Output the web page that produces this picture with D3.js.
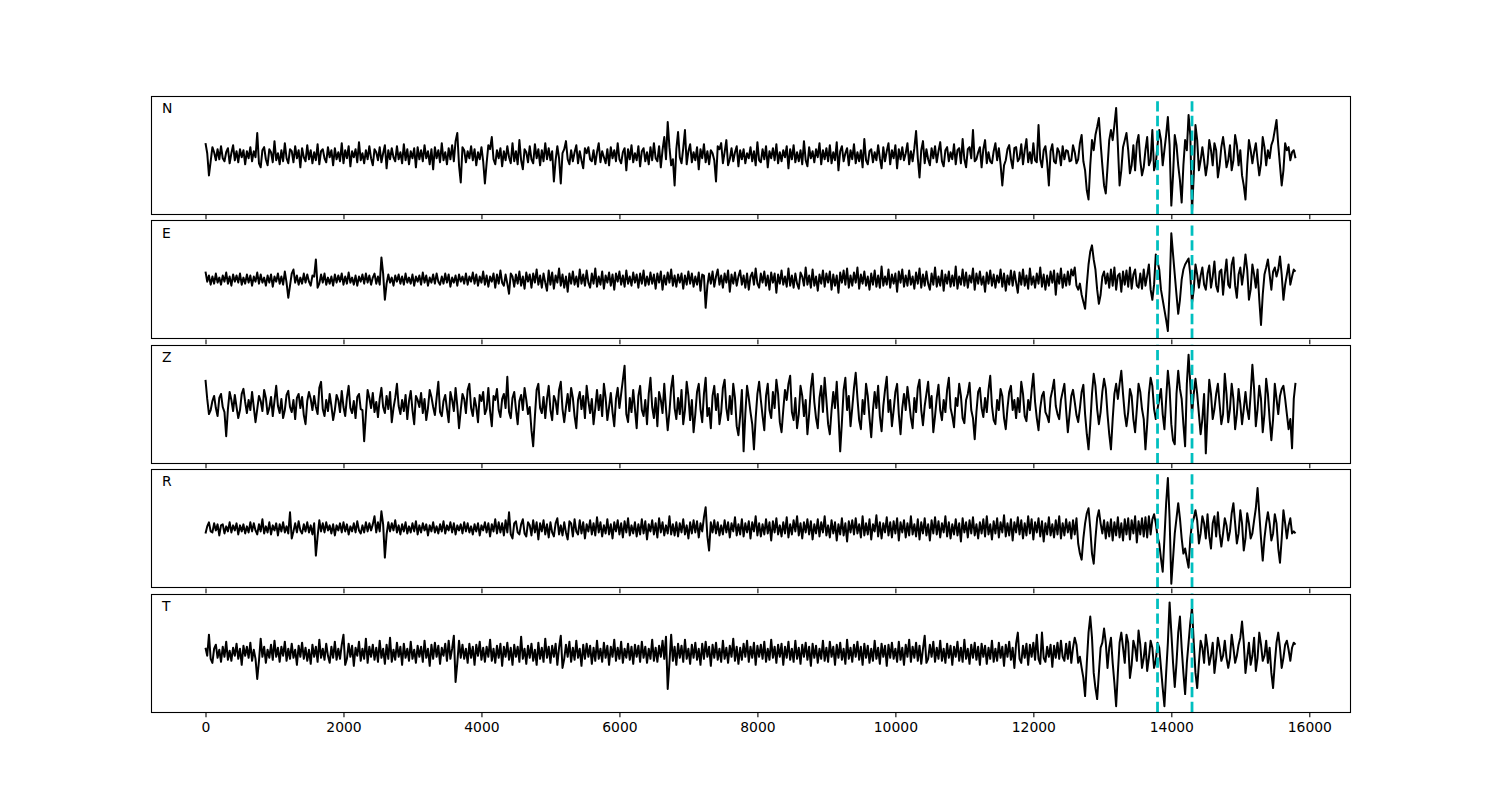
<!DOCTYPE html>
<html><head><meta charset="utf-8">
<script src="https://cdn.jsdelivr.net/npm/d3@7"></script>
<style>
body{margin:0;background:#fff}
svg{display:block}
text{font-family:"DejaVu Sans",sans-serif}
</style>
</head><body>
<svg id="chart" width="1500" height="800"></svg>
<script>
// ---------------- data (amplitudes, 25-unit sampling) ----------------
const channels = ["N", "E", "Z", "R", "T"];
const duration = 15800;           // time of the last sample
const markerTimes = [13800, 14300];
const xTickValues = [0, 2000, 4000, 6000, 8000, 10000, 12000, 14000, 16000];

const traceN = [
12,2,-20,-6,8,3,-5,6,-4,9,-3,-6,3,7,-8,2,10,-5,4,-7,6,-2,5,-9,4,
-3,8,-6,4,-2,22,-8,-12,5,8,-4,-10,6,3,-7,14,-5,2,-9,5,-6,12,-3,-8,6,
4,-7,9,-3,5,-12,7,-2,-6,10,-4,5,-8,3,-5,11,-9,4,6,-3,-7,8,-2,5,-10,
7,-4,3,-6,12,-8,5,-3,9,-11,4,-2,6,-7,13,-5,2,-8,5,-4,9,-3,-10,6,3,
-5,8,-7,2,10,-13,5,-4,7,-2,-6,9,-4,3,-8,11,-5,6,-9,4,-3,7,-12,8,-4,
5,-6,10,-3,4,-9,6,-14,8,-3,5,-7,12,-5,3,-9,7,-4,10,-6,14,22,-10,-27,8,
5,-7,4,-3,9,-5,6,-10,3,-4,8,-6,-28,-8,10,6,18,-4,-9,5,-3,7,-11,4,-5,
9,-2,-8,12,-6,4,-9,15,-5,-14,6,3,-7,9,-4,-8,11,-3,6,-10,5,-6,12,-4,7,
-5,4,-26,-5,9,-3,-28,2,6,14,-4,-9,5,-6,3,10,-8,4,-5,-13,7,2,8,-4,-6,
5,-9,3,12,-7,4,-2,-8,6,-10,8,-3,5,-6,12,-4,-8,3,7,-15,6,-4,10,-7,2,
-5,9,-11,4,7,-6,3,-9,8,-5,12,-3,-6,9,-12,5,18,-4,33,8,-10,-4,-30,6,23,
-2,-8,7,25,-9,4,11,-7,3,-5,8,-14,6,-3,11,-7,4,-9,5,2,-5,-26,9,6,12,
-8,3,15,-10,-4,7,-6,3,9,-11,5,-4,6,-8,2,-3,8,-6,4,-10,13,-5,-7,6,-4,
9,-12,4,-3,7,-5,11,-8,3,-6,5,-2,9,-13,6,-4,10,-7,3,-6,5,-9,14,-5,-11,
8,-3,4,-7,6,-2,12,-9,5,-4,7,-6,10,-8,3,-5,13,-15,4,9,-6,2,7,-10,5,
-4,11,-8,3,-6,5,-12,16,-5,-9,4,6,-7,3,-5,10,-3,-13,8,-6,4,12,-9,5,-3,
10,-13,6,-4,8,-5,2,12,-9,4,-6,7,24,-3,-22,5,14,-8,6,-4,-10,7,-3,9,-7,
4,13,-6,-11,5,8,-6,3,-4,11,-9,5,7,-8,16,-4,-12,6,8,-3,25,-6,-4,3,8,
-12,6,15,-8,3,-6,-8,4,12,-5,7,-9,-30,-10,-5,6,10,-4,-13,7,8,-6,-3,11,-9,
5,16,-7,3,-8,12,-5,-7,30,-4,-12,5,9,-7,-30,4,11,-6,-8,7,3,-10,9,-4,5,
4,-6,-5,10,3,-8,-4,12,20,-6,-15,-35,-44,-10,15,5,20,28,37,12,-10,-30,-38,-12,15,
25,15,30,47,10,-30,-15,8,15,22,5,-18,-10,10,-15,12,20,-5,-20,-12,5,18,-10,-5,25,
-15,-8,10,25,15,-10,5,20,38,10,-50,-20,20,10,-10,-25,-47,-10,15,5,40,20,-56,-20,30,
15,-15,-5,8,-5,-20,-8,15,5,-10,12,5,-22,-10,8,18,5,-12,-5,10,-15,-5,20,10,-10,
5,-20,-30,-44,-10,15,5,-8,3,12,-5,-20,-8,18,8,-10,5,-3,10,15,25,35,10,-10,-30,
-15,12,5,8,-5,3,5,-3
];

const traceE = [
8,-2,4,-5,3,-4,6,-3,2,-5,4,-2,7,-4,3,-6,5,-2,4,-3,6,-5,2,-4,5,
-3,4,-6,3,-2,7,-4,5,-3,2,-6,4,-3,5,-7,3,-2,6,-4,3,-5,8,-3,-18,-6,
6,10,-3,4,-5,2,-4,6,-3,5,-2,-6,4,3,20,-8,-4,5,-3,6,-5,2,-4,3,-6,
5,-3,4,-2,6,-5,3,-4,7,-3,2,-5,4,-6,3,-2,5,-4,6,-3,4,-5,2,6,-4,
3,-5,22,6,-20,-4,5,-3,2,-6,4,-2,5,-4,3,-5,6,-3,2,-4,5,-6,3,-2,4,
-5,7,-3,4,-6,2,-3,5,-4,6,-2,-5,3,-4,6,-3,5,-7,2,-3,4,-6,5,-2,3,
-4,6,-5,3,-2,7,-4,5,-6,3,-3,8,-5,4,-7,3,-2,6,-8,5,-4,9,-3,-6,5,
-4,-14,6,3,-7,5,-4,8,-6,3,-9,7,-2,5,-8,6,-3,10,-5,4,-8,6,-3,-11,9,
-5,7,-9,4,-3,11,-6,5,-8,3,-12,6,-4,8,-5,3,-7,10,-4,5,-6,9,-3,-8,6,
-4,11,-7,3,-5,8,-9,4,-3,7,-6,5,-10,6,-2,8,-5,4,-7,9,-4,3,-6,7,-3,
5,-8,6,-4,9,-6,3,-5,7,-4,5,-9,6,-3,8,-10,4,-5,7,-3,10,-6,4,-7,5,
-3,6,-9,4,-5,8,-4,6,-7,3,-5,7,-11,5,4,-28,-6,6,-4,8,-7,3,10,-5,4,
-8,6,-3,9,-12,5,-4,7,-6,3,9,-5,4,-8,6,-10,3,7,-5,11,-4,-8,6,-3,8,
-6,4,-10,7,-3,6,-13,5,-4,9,-5,3,-7,11,-6,4,-8,6,-4,-9,7,3,-6,12,-5,
4,-8,10,-6,3,-11,5,-4,9,-7,6,-3,8,-10,5,-6,4,-13,7,-3,9,-5,11,-8,4,
-6,7,-3,12,-9,5,-4,8,-6,3,-10,6,-5,9,-7,4,-8,13,-6,3,-5,10,-8,5,-4,
6,-12,8,-3,10,-7,4,-6,9,-5,3,-9,7,-4,11,-8,5,-6,8,-4,-10,6,-5,12,-7,
3,-6,9,-11,5,-4,8,-7,4,-6,13,-9,3,-5,10,-6,7,-8,4,-3,11,-10,6,-4,8,
-5,3,-12,7,-4,9,-6,5,-8,4,-3,10,-7,6,-11,4,-5,9,-6,8,-3,-13,7,-5,10,
-6,4,-9,11,-5,3,-8,6,-4,12,-7,5,-10,4,-6,8,-3,9,-15,6,-4,11,-8,5,-6,
8,-5,10,4,12,-6,-10,-4,-15,-22,-29,-5,15,28,34,20,10,-10,-24,-15,3,8,-4,6,-8,
10,-6,12,-10,4,6,-12,8,-5,9,-7,12,-9,5,10,-6,-8,6,-9,10,-6,4,15,-10,-20,
-5,25,18,10,-10,-20,-30,-40,-51,-10,46,25,5,-15,-34,-20,0,10,15,18,21,5,-23,-10,15,
5,-8,4,12,-5,-10,6,14,-8,3,18,-6,-12,8,10,-15,5,20,-5,-8,15,22,-6,-18,5,
12,-5,8,25,10,-20,-10,15,5,-8,10,-20,-45,-15,5,12,20,5,-10,8,12,3,10,23,5,
-20,-5,5,15,-5,3,10,8
];

const traceZ = [
24,5,-10,-6,3,8,-4,-12,6,10,-3,-8,-32,-5,12,4,-7,9,-3,-14,-6,10,15,2,-9,
4,-6,12,-3,-18,-5,8,3,-7,14,6,-10,-4,7,-12,3,18,-2,-9,5,-14,-6,9,13,-3,
-8,4,-15,6,10,-4,7,-11,-20,3,12,5,-6,8,-3,-10,16,22,-5,-12,4,-7,10,-2,-16,
-6,9,4,-8,13,-3,-12,6,18,-4,-9,3,-14,7,10,-5,-6,-37,-10,14,6,-4,11,-8,2,
-13,5,16,-3,-9,8,-5,12,-18,-4,6,20,-2,-10,4,-7,9,-15,3,13,-6,-20,8,4,-3,
11,-9,5,-16,-4,14,7,-3,-11,6,22,-8,-12,3,9,-5,-18,12,4,-7,16,-2,-24,-6,10,
5,-9,14,20,-4,-12,6,-3,-18,9,3,12,-10,-5,16,-7,-22,8,4,15,-6,-13,5,10,-4,
27,-8,-14,6,12,-5,-20,3,9,-6,16,4,-10,-3,-26,-42,-12,14,20,-4,-9,7,-14,5,18,
-6,-16,8,3,-10,14,22,-5,-18,-3,10,-7,16,6,-12,-24,4,12,-5,8,-14,18,3,-9,5,
-20,-4,14,-6,9,-12,20,6,-16,-3,11,-8,-22,5,16,-4,10,24,38,-10,-18,6,-8,14,-5,
-24,8,18,-6,-12,4,-20,10,26,-3,-14,6,-22,12,4,-9,20,-5,-26,-8,16,28,-4,-15,6,
-10,14,-20,-6,22,8,-16,4,-28,-10,12,20,-5,-18,10,26,-12,-4,-24,8,18,-6,10,-20,-8,
16,24,-4,-16,8,-10,20,6,-22,-31,-12,14,-47,-10,18,6,-8,-20,-45,-14,10,22,4,-12,-26,
8,20,-6,-14,12,-4,24,10,-18,-28,-6,14,4,20,28,-8,-16,6,-24,-10,18,8,-12,4,-30,
-10,16,30,2,-14,-24,6,18,-8,26,4,-20,-30,-6,12,-4,22,-10,-47,-18,14,26,-6,8,-22,
-4,16,31,6,-16,-25,4,-10,20,8,-14,-33,-6,12,-4,18,-12,-27,-2,14,27,-8,4,-22,-6,
12,20,-10,-30,-4,10,-6,17,2,-14,-24,6,-8,16,24,-6,-21,-2,10,22,-4,8,-28,-12,6,
19,-6,-16,4,-8,14,26,-4,-12,-23,6,-2,20,8,-14,-19,4,10,21,-6,-14,-35,-8,12,16,
-4,-13,6,-8,14,28,-2,-16,-20,4,-6,15,8,-14,-25,-4,12,18,-6,4,-14,6,-8,22,10,
-12,-17,4,-6,14,30,2,-14,-26,-4,8,12,-8,-12,-18,6,14,24,-2,-10,-15,4,12,20,-6,
-28,-10,8,14,2,-11,-18,-4,12,19,-10,-30,-45,-20,10,30,18,-5,-20,-8,12,25,15,-10,-30,
-45,-15,10,20,5,20,33,10,-10,-22,-8,15,8,-15,-28,-5,20,12,-5,-15,-45,-20,10,26,18,
-5,-15,-5,5,15,-10,-25,5,33,15,-20,-36,-40,10,33,15,5,-20,-42,20,49,20,-10,10,25,
10,-10,-30,-15,10,-49,-10,24,10,-15,-5,10,20,0,-20,-10,30,10,-18,-5,20,5,-25,-10,15,
0,-20,-5,12,-5,-15,10,39,15,-22,-5,18,5,-28,-10,25,10,-15,-36,-15,20,5,-10,8,15,
18,5,-10,-25,-15,-44,5,21
];

const traceR = [
-5,2,6,-3,-4,5,-2,4,-7,3,4,-5,2,-3,6,-4,3,-2,5,-6,3,-3,4,-5,2,
-4,6,-3,5,-2,-6,4,-3,9,-5,2,-4,6,-6,3,-2,5,-7,4,-3,6,-4,2,-5,16,
-10,-3,5,-4,7,-2,-5,4,-3,6,-4,3,-6,5,-27,-8,8,-3,5,-4,6,-2,3,-5,4,
-7,3,-2,5,-4,6,-3,4,-6,2,-3,5,-4,7,-2,-5,3,-4,6,-3,5,-2,4,12,-4,
6,-3,17,4,-29,-6,6,-3,5,-2,8,-4,3,-6,4,-3,6,-5,2,-4,5,-3,7,-6,3,
-4,5,-2,4,-7,3,-3,6,-4,2,-5,4,-3,7,-5,3,-2,6,-4,5,-6,3,-2,4,-5,
6,-3,5,-4,2,-6,4,-3,5,-7,3,-2,6,-4,5,-8,4,-3,9,-5,6,-4,5,-7,8,
-4,16,-6,-10,5,7,-4,-6,4,9,-5,-8,6,3,-7,8,-4,6,-11,5,-3,8,-6,4,-9,
6,-4,-8,5,10,-6,3,-7,6,-4,-11,7,5,-8,9,-3,-6,8,-5,6,-10,4,-3,8,-6,
5,-7,11,-4,6,-8,3,-5,9,-6,4,-10,6,-3,8,-6,5,-9,7,-4,10,-7,3,-5,6,
-8,4,-6,9,-5,7,-11,4,-3,8,-6,5,-9,10,-4,6,-7,3,-5,12,-6,4,-7,6,-8,
5,-4,9,-6,3,-10,6,-5,8,-4,7,-9,5,-3,11,21,-8,-22,6,-4,8,-5,6,-7,3,
-6,8,-4,6,-9,5,-3,11,-7,4,-6,9,-8,5,-4,7,-10,6,-3,12,-7,5,-8,4,-6,
9,-5,6,-12,7,-4,10,-6,3,-8,6,-5,11,-9,4,-6,8,-3,12,-7,5,-10,6,-4,9,
-6,7,-11,4,-5,9,-8,6,-4,12,-7,3,-9,8,-5,6,-12,4,-6,10,-7,5,-13,7,-4,
8,-6,10,-5,4,-9,12,-7,5,-6,9,-11,4,-3,13,-8,6,-10,5,-4,11,-7,6,-9,7,
-5,10,-12,6,-4,8,-9,5,-7,12,-6,4,-8,9,-11,6,-5,10,-7,4,-12,8,-5,11,-6,
7,-9,5,-4,12,-8,6,-10,4,-6,9,-7,5,-13,10,-4,6,-9,8,-5,11,-7,4,-10,6,
-5,9,-8,12,-6,4,-11,7,-5,10,-9,6,-4,13,-8,5,-7,9,-12,6,-4,11,-6,8,-10,
5,-7,12,-5,9,-11,6,-4,10,-8,7,-13,5,-6,11,-7,4,-9,8,-6,12,-10,5,-7,9,
-4,6,-10,8,-6,10,-15,-25,-31,-10,5,15,20,0,-25,-35,-10,10,18,5,-5,8,-10,6,-8,
9,-12,6,-7,11,-9,5,-12,9,-6,10,-11,8,-5,12,-14,7,-6,10,-8,11,-9,12,-6,9,
14,5,-8,-15,-30,-43,-10,25,50,10,-55,-30,-5,10,25,10,-10,-25,-20,-30,-39,-10,5,10,18,
8,-15,-5,12,5,-10,14,-8,-20,5,12,-8,16,-5,-18,-5,10,3,-12,-3,15,25,5,-15,-5,
18,5,-22,-10,15,5,-10,-5,8,20,40,15,-10,-32,-10,5,16,5,-12,-5,14,5,-20,-34,-10,
18,5,-10,3,10,-5,-3,-5
];

const traceT = [
5,-3,18,-6,-10,4,8,-5,3,-9,6,-4,11,-7,2,-8,5,-3,9,-6,4,-12,7,-3,6,
-5,10,-8,3,-6,-26,-8,14,-4,6,-10,3,-5,8,-7,12,-4,5,-9,6,-3,11,-8,4,-6,
9,-5,3,-12,7,-4,10,-6,5,-8,3,-11,8,-4,6,-9,13,-5,4,-7,9,-3,-10,6,-5,
11,-7,4,-6,8,18,-12,-6,9,-4,7,-13,5,-3,11,-8,4,-6,14,-10,6,-4,8,-7,5,
-9,12,-5,4,-11,8,-6,15,-9,3,-7,10,-4,6,-12,9,-5,4,-8,11,-6,3,-10,7,-4,
6,-9,12,-5,4,-13,8,-6,10,-4,7,-11,5,-3,9,-8,12,-6,4,17,-29,-10,12,-5,8,
-6,4,-10,9,-5,6,-12,8,-3,11,-7,5,-9,6,-4,13,-8,4,-10,7,-5,9,-13,6,-4,
10,-7,5,-12,8,-4,6,-9,16,-6,4,-11,7,-5,9,-8,3,-12,10,-6,5,-9,14,-5,6,
-10,7,-4,9,-12,5,17,-15,-6,8,-4,11,-9,5,-7,12,-5,4,-13,8,-6,9,-4,7,-11,
5,-8,12,-6,4,-9,10,-5,7,-12,6,-4,13,-8,5,-6,11,-10,4,-5,9,-7,6,-11,8,
-4,7,-9,11,-5,6,-10,4,-6,13,-8,5,-9,7,-4,12,-6,16,-36,-10,18,-8,6,-12,9,
-5,7,-9,13,-6,4,-11,8,-5,10,-7,4,-12,9,-6,11,-4,6,-13,8,-5,10,-7,4,-9,
12,-6,5,-10,7,-4,14,-8,6,-11,5,-7,9,-4,12,-9,6,-5,10,-12,7,-4,8,-6,11,
-9,4,-7,13,-5,6,-10,8,-4,9,-12,6,-5,11,-7,4,-9,12,-6,5,-11,8,-4,10,-7,
6,-13,9,-5,7,-10,4,-6,12,-8,5,-9,11,-4,6,-12,8,-5,10,-7,4,-11,13,-6,5,
-9,8,-4,11,-7,6,-12,9,-5,7,-10,4,-8,12,-6,5,-11,9,-4,7,-13,8,-5,10,-6,
4,-9,11,-7,5,-12,8,-4,13,-9,6,-5,10,-8,7,-11,4,17,-10,-6,8,-4,11,-9,5,
-6,12,-8,4,-10,9,-5,7,-12,6,-4,11,-8,5,-9,13,-6,4,-11,8,-5,10,-7,6,-12,
9,-4,7,-11,5,-6,12,-9,4,-8,10,-5,6,-13,8,-4,11,-7,5,-15,9,20,-6,-10,7,
-5,9,-12,8,-4,10,-7,18,-6,-11,20,-5,-9,6,-4,8,-14,7,-5,10,-6,12,-4,-8,9,
-6,11,-10,5,15,8,-10,-4,-15,-25,-43,-10,20,36,15,-20,-35,-46,-20,5,10,24,10,-15,5,
15,-10,-30,-53,-20,10,20,5,-10,18,10,-25,-12,12,5,-8,22,8,-15,-5,10,-18,-5,12,5,
-15,-8,10,5,-15,-35,-53,-20,10,50,20,-10,-34,-10,20,36,5,-20,-41,-10,10,30,45,10,-20,
-35,-10,12,5,-10,18,5,-12,-3,10,-20,-5,15,5,-8,-3,12,-5,-15,-5,18,5,-10,-3,8,
15,31,10,-20,-5,10,-12,-3,15,-18,-5,20,8,-8,-3,12,-10,5,-20,-35,-10,10,20,5,-15,
-5,8,12,3,-8,5,10,8
];

const traces = [traceN, traceE, traceZ, traceR, traceT];

// ---------------- drawing ----------------
(function draw() {
  const svg = d3.select("#chart");
  const plotLeft = 151, plotRight = 1350, plotTop = 96, plotBottom = 712;
  const hspace = 0.05;
  const nP = channels.length;
  const ph = (plotBottom - plotTop) / (nP + (nP - 1) * hspace);
  const gap = ph * hspace;

  const pad = duration * 0.05;
  const x = d3.scaleLinear().domain([-pad, duration + pad]).range([plotLeft, plotRight]);

  const ampMax = d3.max(traces, tr => d3.max(tr, v => Math.abs(v))) * 1.05;
  const tickLen = 4.86, tickPad = 4.86;

  traces.forEach((tr, k) => {
    const y0 = plotTop + k * (ph + gap);
    const y = d3.scaleLinear().domain([-ampMax, ampMax]).range([y0 + ph, y0]);
    const n = tr.length;
    const t = i => i * duration / (n - 1);

    const g = svg.append("g");
    const clipId = "clip" + k;
    svg.append("clipPath").attr("id", clipId)
      .append("rect").attr("x", plotLeft).attr("y", y0).attr("width", plotRight - plotLeft).attr("height", ph);

    const line = d3.line().x((d, i) => x(t(i))).y(d => y(d));
    g.append("path").datum(tr)
      .attr("clip-path", `url(#${clipId})`)
      .attr("fill", "none").attr("stroke", "#000").attr("stroke-width", 2)
      .attr("stroke-linejoin", "round")
      .attr("d", line);

    g.selectAll("line.marker").data(markerTimes).join("line")
      .attr("class", "marker")
      .attr("x1", d => x(d)).attr("x2", d => x(d))
      .attr("y1", y0 + ph).attr("y2", y0)
      .attr("stroke", "#00bfbf").attr("stroke-width", 2.78)
      .attr("stroke-dasharray", "10.28,4.44");

    g.append("rect")
      .attr("x", Math.round(plotLeft) + 0.5).attr("y", Math.round(y0) + 0.5)
      .attr("width", Math.round(plotRight - plotLeft)).attr("height", Math.round(ph))
      .attr("fill", "none").attr("stroke", "#000").attr("stroke-width", 1.1);

    const axis = d3.axisBottom(x).tickValues(xTickValues).tickSize(tickLen).tickPadding(tickPad)
      .tickFormat(k === nP - 1 ? d3.format("d") : "");
    const ag = svg.append("g").attr("transform", `translate(0,${Math.round(y0 + ph) + 0.5})`).call(axis);
    ag.select(".domain").remove();
    ag.selectAll(".tick line").attr("stroke", "#000").attr("stroke-width", 1.1);
    ag.selectAll(".tick text").attr("fill", "#000").style("font-size", "13.9px")
      .style("font-family", "'DejaVu Sans', sans-serif");

    svg.append("text")
      .attr("x", plotLeft + 11).attr("y", y0 + 17.3)
      .style("font-size", "13.9px").attr("fill", "#000")
      .text(channels[k]);
  });
})();
</script>
</body></html>
